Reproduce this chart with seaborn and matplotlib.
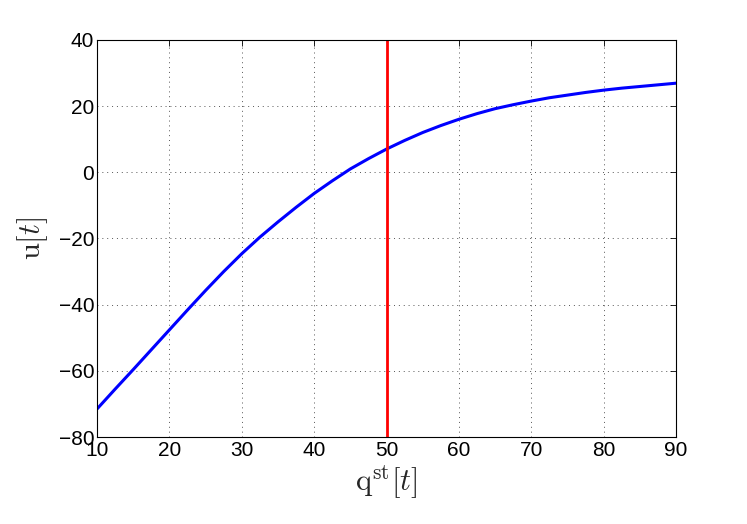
import numpy as np
import pandas as pd
import matplotlib
matplotlib.use('Agg')
import matplotlib.pyplot as plt
import seaborn as sns

# values
q_st = [10, 12.5, 15, 17.5, 20, 22.5, 25, 27.5, 30, 32.5, 35, 37.5, 40, 42.5, 45,
        47.5, 50, 52.5, 55, 57.5, 60, 62.5, 65, 67.5, 70, 72.5, 75, 77.5, 80,
        82.5, 85, 87.5, 90]
u_vals = [-71.5, -65.5, -59.6, -53.6, -47.6, -41.6, -35.7, -30.0, -24.6, -19.6,
          -15.0, -10.6, -6.4, -2.6, 1.0, 4.1, 7.0, 9.6, 12.0, 14.1, 16.0, 17.7,
          19.2, 20.4, 21.5, 22.5, 23.3, 24.1, 24.8, 25.4, 25.9, 26.4, 26.9]
q_marker = 50
x_ticks = [10, 20, 30, 40, 50, 60, 70, 80, 90]
y_ticks = [-80, -60, -40, -20, 0, 20, 40]

sns.set_style('white')
plt.rcParams['font.family'] = ['Liberation Sans', 'DejaVu Sans']
plt.rcParams['mathtext.fontset'] = 'cm'

df = pd.DataFrame({'q': q_st, 'u': u_vals})

fig = plt.figure(figsize=(7.47, 5.24), dpi=100)
ax = fig.add_axes([0.130, 0.166, 0.775, 0.758])

sns.lineplot(data=df, x='q', y='u', ax=ax, color='#0000ff', linewidth=2.2)
ax.axvline(q_marker, color='#ff0000', linewidth=2.0)

ax.set_xlim(10, 90)
ax.set_ylim(-80, 40)
ax.set_xticks(x_ticks)
ax.set_yticks(y_ticks)
ax.set_yticklabels([str(v).replace('-', '\u2212') for v in y_ticks])
ax.tick_params(direction='in', length=4, width=0.6, labelsize=15, colors='black',
               top=True, right=True, pad=3)
ax.tick_params(axis='y', pad=2)
ax.grid(True, linestyle=(0, (1, 4)), color='#555555', linewidth=0.7)
for s in ax.spines.values():
    s.set_color('black')
    s.set_linewidth(0.8)

ax.set_xlabel(r'$\mathrm{q}^{\mathrm{st}}[t]$', fontsize=22, labelpad=2)
ax.set_ylabel(r'$\mathrm{u}[t]$', fontsize=22, labelpad=6)

plt.savefig('out.png', dpi=100)
plt.close()
